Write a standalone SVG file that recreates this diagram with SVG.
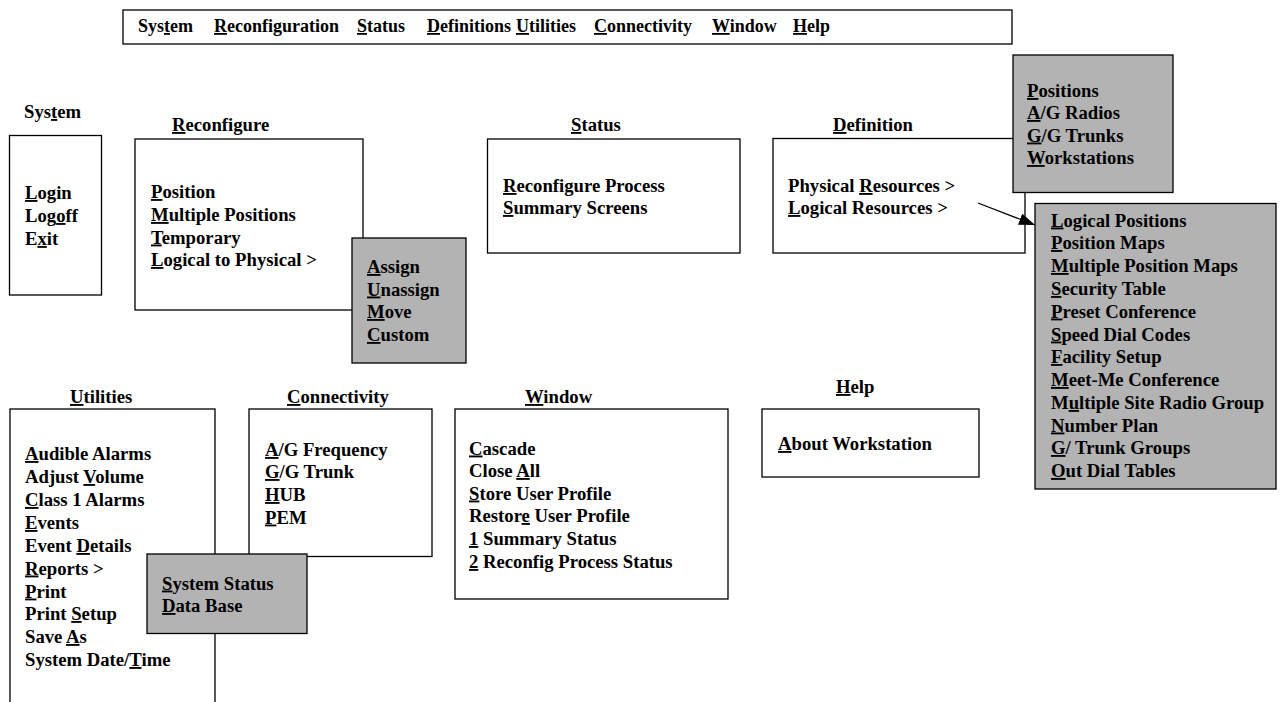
<svg xmlns="http://www.w3.org/2000/svg" width="1284" height="702" viewBox="0 0 1284 702">
<style>
text{font-family:"Liberation Serif","Times New Roman",serif;font-weight:bold;font-size:18.7px;fill:#000}
.m{font-size:18px}
.u{text-decoration:underline}
.box{fill:#fff;stroke:#000;stroke-width:1.3}
.grey{fill:#b3b3b3;stroke:#000;stroke-width:1.3}
.conn{stroke:#000;stroke-width:1.3;fill:none}
</style>
<defs>
<marker id="ah" viewBox="0 0 16 12" refX="16" refY="6" markerWidth="16" markerHeight="12" markerUnits="userSpaceOnUse" orient="auto"><path d="M0,0 L16,6 L0,12 z" fill="#000"/></marker>
</defs>
<rect width="1284" height="702" fill="#fff"/>

<g id="menubar">
<rect class="box" x="123" y="10" width="889" height="34"/>
<text class="m" x="138" y="32">Sys<tspan class="u">t</tspan>em</text>
<text class="m" x="214" y="32"><tspan class="u">R</tspan>econfiguration</text>
<text class="m" x="357" y="32"><tspan class="u">S</tspan>tatus</text>
<text class="m" x="427" y="32"><tspan class="u">D</tspan>efinitions</text>
<text class="m" x="516" y="32"><tspan class="u">U</tspan>tilities</text>
<text class="m" x="594" y="32"><tspan class="u">C</tspan>onnectivity</text>
<text class="m" x="712" y="32"><tspan class="u">W</tspan>indow</text>
<text class="m" x="793" y="32"><tspan class="u">H</tspan>elp</text>
</g>

<g id="system">
<text x="24" y="118">Sys<tspan class="u">t</tspan>em</text>
<rect class="box" x="9.5" y="135.5" width="92" height="159.5"/>
<text x="25" y="199"><tspan class="u">L</tspan>ogin</text>
<text x="25" y="222">Log<tspan class="u">o</tspan>ff</text>
<text x="25" y="245">E<tspan class="u">x</tspan>it</text>
</g>

<g id="reconfigure">
<text x="172" y="131"><tspan class="u">R</tspan>econfigure</text>
<rect class="box" x="135" y="139" width="228" height="171"/>
<text x="151" y="198"><tspan class="u">P</tspan>osition</text>
<text x="151" y="221"><tspan class="u">M</tspan>ultiple Positions</text>
<text x="151" y="243.5"><tspan class="u">T</tspan>emporary</text>
<text x="151" y="266"><tspan class="u">L</tspan>ogical to Physical &gt;</text>
</g>

<g id="assign">
<rect class="grey" x="352" y="238" width="114" height="125"/>
<text x="367" y="273"><tspan class="u">A</tspan>ssign</text>
<text x="367" y="295.5"><tspan class="u">U</tspan>nassign</text>
<text x="367" y="318"><tspan class="u">M</tspan>ove</text>
<text x="367" y="341"><tspan class="u">C</tspan>ustom</text>
</g>

<g id="status">
<text x="571" y="131"><tspan class="u">S</tspan>tatus</text>
<rect class="box" x="487.5" y="139" width="252.5" height="114"/>
<text x="503" y="192"><tspan class="u">R</tspan>econfigure Process</text>
<text x="503" y="214"><tspan class="u">S</tspan>ummary Screens</text>
</g>

<g id="definition">
<text x="833" y="131"><tspan class="u">D</tspan>efinition</text>
<rect class="box" x="773" y="138.5" width="252" height="114.5"/>
<text x="788" y="192">Physical <tspan class="u">R</tspan>esources &gt;</text>
<text x="788" y="214"><tspan class="u">L</tspan>ogical Resources &gt;</text>
</g>

<g id="physical-resources">
<rect class="grey" x="1013" y="55" width="160" height="137.5"/>
<text x="1027" y="97"><tspan class="u">P</tspan>ositions</text>
<text x="1027" y="119"><tspan class="u">A</tspan>/G Radios</text>
<text x="1027" y="141.5"><tspan class="u">G</tspan>/G Trunks</text>
<text x="1027" y="164"><tspan class="u">W</tspan>orkstations</text>
</g>

<g id="logical-resources">
<rect class="grey" x="1035" y="203.5" width="241" height="285.5"/>
<text x="1051" y="226.5"><tspan class="u">L</tspan>ogical Positions</text>
<text x="1051" y="249"><tspan class="u">P</tspan>osition Maps</text>
<text x="1051" y="272"><tspan class="u">M</tspan>ultiple Position Maps</text>
<text x="1051" y="295"><tspan class="u">S</tspan>ecurity Table</text>
<text x="1051" y="317.5"><tspan class="u">P</tspan>reset Conference</text>
<text x="1051" y="340.5"><tspan class="u">S</tspan>peed Dial Codes</text>
<text x="1051" y="363"><tspan class="u">F</tspan>acility Setup</text>
<text x="1051" y="386"><tspan class="u">M</tspan>eet-Me Conference</text>
<text x="1051" y="409">M<tspan class="u">u</tspan>ltiple Site Radio Group</text>
<text x="1051" y="431.5"><tspan class="u">N</tspan>umber Plan</text>
<text x="1051" y="454"><tspan class="u">G</tspan>/ Trunk Groups</text>
<text x="1051" y="477"><tspan class="u">O</tspan>ut Dial Tables</text>
</g>

<g id="connectors">
<line class="conn" x1="978" y1="203" x2="1035" y2="225" marker-end="url(#ah)"/>
</g>

<g id="utilities">
<text x="70" y="403"><tspan class="u">U</tspan>tilities</text>
<rect class="box" x="10" y="409" width="205" height="310"/>
<text x="25" y="460"><tspan class="u">A</tspan>udible Alarms</text>
<text x="25" y="483">Adjust <tspan class="u">V</tspan>olume</text>
<text x="25" y="506"><tspan class="u">C</tspan>lass 1 Alarms</text>
<text x="25" y="529"><tspan class="u">E</tspan>vents</text>
<text x="25" y="552">Event <tspan class="u">D</tspan>etails</text>
<text x="25" y="574.5"><tspan class="u">R</tspan>eports &gt;</text>
<text x="25" y="597.5"><tspan class="u">P</tspan>rint</text>
<text x="25" y="620">Print <tspan class="u">S</tspan>etup</text>
<text x="25" y="643">Save <tspan class="u">A</tspan>s</text>
<text x="25" y="666">System Date/<tspan class="u">T</tspan>ime</text>
</g>

<g id="connectivity">
<text x="287" y="403"><tspan class="u">C</tspan>onnectivity</text>
<rect class="box" x="249" y="409" width="183" height="147.5"/>
<text x="265" y="456"><tspan class="u">A</tspan>/G Frequency</text>
<text x="265" y="478"><tspan class="u">G</tspan>/G Trunk</text>
<text x="265" y="501"><tspan class="u">H</tspan>UB</text>
<text x="265" y="523.5"><tspan class="u">P</tspan>EM</text>
</g>

<g id="reports">
<rect class="grey" x="147" y="554" width="160" height="79.5"/>
<text x="162" y="589.5"><tspan class="u">S</tspan>ystem Status</text>
<text x="162" y="612"><tspan class="u">D</tspan>ata Base</text>
</g>

<g id="window">
<text x="525" y="403"><tspan class="u">W</tspan>indow</text>
<rect class="box" x="455" y="409" width="273" height="190"/>
<text x="469" y="454.5"><tspan class="u">C</tspan>ascade</text>
<text x="469" y="477">Close <tspan class="u">A</tspan>ll</text>
<text x="469" y="499.5"><tspan class="u">S</tspan>tore User Profile</text>
<text x="469" y="522">Restor<tspan class="u">e</tspan> User Profile</text>
<text x="469" y="545"><tspan class="u">1</tspan> Summary Status</text>
<text x="469" y="568"><tspan class="u">2</tspan> Reconfig Process Status</text>
</g>

<g id="help">
<text x="836" y="393"><tspan class="u">H</tspan>elp</text>
<rect class="box" x="762" y="409" width="217" height="68"/>
<text x="778" y="450"><tspan class="u">A</tspan>bout Workstation</text>
</g>
</svg>
